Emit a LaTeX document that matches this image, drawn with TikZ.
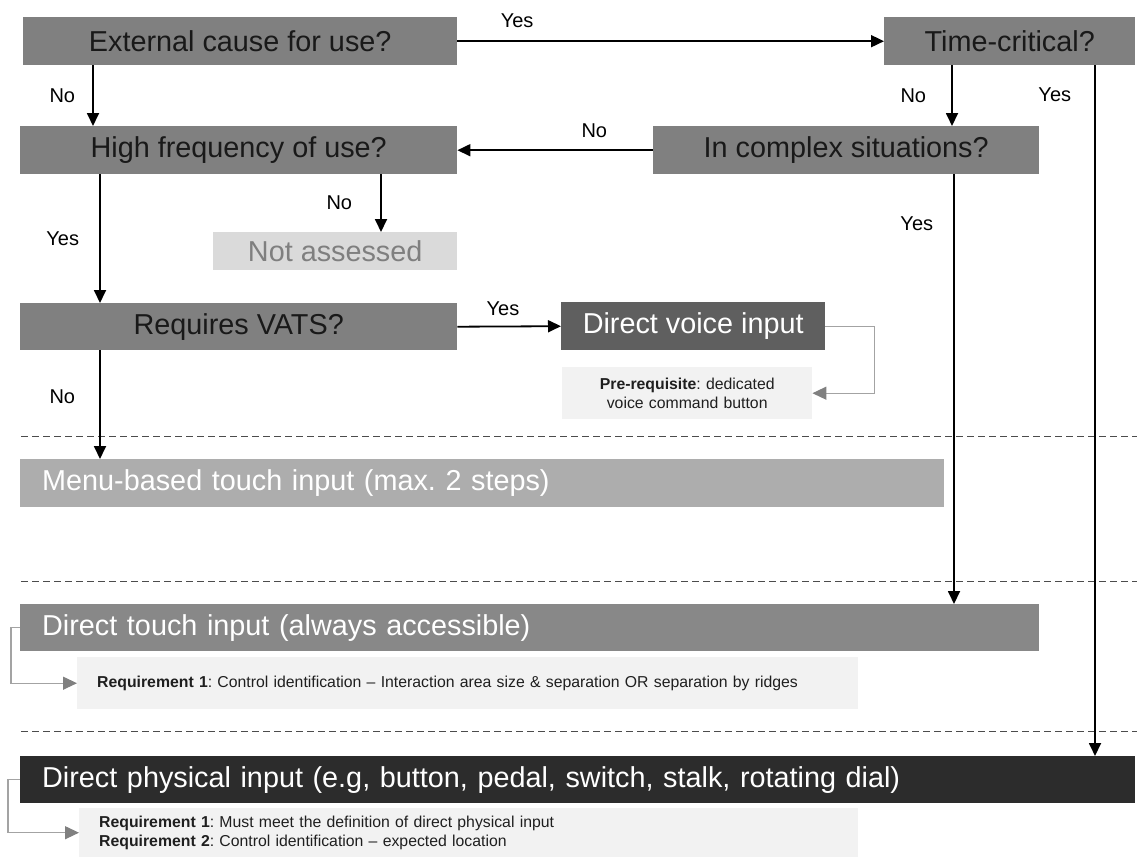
\documentclass[tikz,border=0pt]{standalone}
\usepackage{fontspec}
\setmainfont{Liberation Sans}
\usetikzlibrary{positioning, arrows.meta}
\frenchspacing

\definecolor{qgray}{HTML}{808080}
\definecolor{nafill}{HTML}{DADADA}
\definecolor{natext}{HTML}{7F7F7F}
\definecolor{voicegray}{HTML}{5F5F5F}
\definecolor{menugray}{HTML}{ADADAD}
\definecolor{touchgray}{HTML}{888888}
\definecolor{physgray}{HTML}{2C2C2C}
\definecolor{reqfill}{HTML}{F2F2F2}
\definecolor{conngray}{HTML}{A3A3A3}
\definecolor{tipgray}{HTML}{808080}

\begin{document}
\begin{tikzpicture}[x=1pt, y=-1pt,
    box/.style={anchor=north west, inner sep=0pt, minimum height=48pt, font=\fontsize{28.8}{32}\selectfont},
    qbox/.style={box, fill=qgray, text=black!90},
    outbox/.style={box, inner xsep=22pt, align=left, text=white},
    reqbox/.style={anchor=north west, fill=reqfill, inner xsep=20pt, inner ysep=0pt, align=left, text=black!88, font=\fontsize{15.8}{19}\selectfont},
    lbl/.style={inner sep=0pt, font=\fontsize{20}{24}\selectfont},
    arr/.style={-{Triangle[length=13pt,width=12pt]}, line width=1.8pt},
    garr/.style={-{Triangle[length=14pt,width=13pt,color=tipgray]}, draw=conngray, line width=1.2pt},
    sep/.style={draw=black!70, line width=1pt, dash pattern=on 7pt off 4pt}]

   \useasboundingbox (0,0) rectangle (1137,857);

   % questions
   \node[qbox, minimum width=434pt] (ext) at (23,17) {External cause for use?};
   \node[qbox, minimum width=251pt] (time) at (884,17) {Time-critical?};
   \node[qbox, minimum width=437pt] (high) at (20,126) {High frequency of use?};
   \node[qbox, minimum width=386pt] (cplx) at (653,126) {In complex situations?};
   \node[box, fill=nafill, text=natext, minimum width=244pt, minimum height=38pt] (nass) at (213,232) {Not assessed};
   \node[qbox, minimum width=437pt, minimum height=47pt] (vats) at (20,303) {Requires VATS?};

   % outcomes
   \node[box, fill=voicegray, text=white, minimum width=264pt] (voice) at (561,302) {Direct voice input};
   \node[reqbox, text width=210pt, align=center, minimum height=52pt] (prereq) at (562,367)
      {\textbf{Pre-requisite}: dedicated\\voice command button};
   \node[outbox, fill=menugray, text width=880pt] (menu) at (20,459) {Menu-based touch input (max. 2 steps)};
   \node[outbox, fill=touchgray, text width=975pt, minimum height=47pt] (touch) at (20,604) {Direct touch input (always accessible)};
   \node[reqbox, text width=741pt, minimum height=52pt] (req1) at (77,657)
      {\textbf{Requirement 1}: Control identification – Interaction area size \& separation OR separation by ridges};
   \node[outbox, fill=physgray, text width=1071pt, minimum height=47pt] (phys) at (20,756)
      {Direct physical input (e.g, button, pedal, switch, stalk, rotating dial)};
   \node[reqbox, text width=739pt, minimum height=49pt] (req2) at (79,808)
      {\textbf{Requirement 1}: Must meet the definition of direct physical input\\
       \textbf{Requirement 2}: Control identification – expected location};

   % separators
   \foreach \y in {436,581,731}
      \draw[sep] (21,\y) -- (1137,\y);

   \coordinate (extNo) at ([xshift=70pt]ext.south west);
   \coordinate (timeNo) at ([xshift=68pt]time.south west);
   \coordinate (timeYes) at ([xshift=211pt]time.south west);
   \coordinate (cplxYes) at ([xshift=301pt]cplx.south west);
   \coordinate (highNo) at ([xshift=361pt]high.south west);
   \coordinate (highYes) at ([xshift=80pt]high.south west);
   \coordinate (vatsNo) at ([xshift=80pt]vats.south west);

   \path[arr]
   (ext.east) edge node[lbl, pos=.14, above=13pt] {Yes} (time.west)
   (extNo) edge node[lbl, left=17pt] {No} (extNo |- high.north)
   (timeNo) edge node[lbl, left=25pt] {No} (timeNo |- cplx.north)
   (timeYes) edge node[lbl, pos=.042, left=23pt] {Yes} (timeYes |- phys.north)
   (cplx.west) edge node[lbl, pos=.3, above=12pt] {No} (high.east)
   (cplxYes) edge node[lbl, pos=.114, left=20pt] {Yes} (cplxYes |- touch.north)
   (highNo) edge node[lbl, left=28pt] {No} (highNo |- nass.north)
   (highYes) edge node[lbl, left=20pt] {Yes} (highYes |- vats.north)
   (vats.east) edge node[lbl, pos=.44, above=10pt] {Yes} (voice.west)
   (vatsNo) edge node[lbl, pos=.43, left=24pt] {No} (vatsNo |- menu.north);

   \draw[garr] (voice.east) -- ++(49,0) |- (prereq.east);
   \draw[garr] (touch.west) -- ++(-9,0) |- (req1.west);
   \draw[garr] (phys.west) -- ++(-12,0) |- (req2.west);
\end{tikzpicture}
\end{document}
